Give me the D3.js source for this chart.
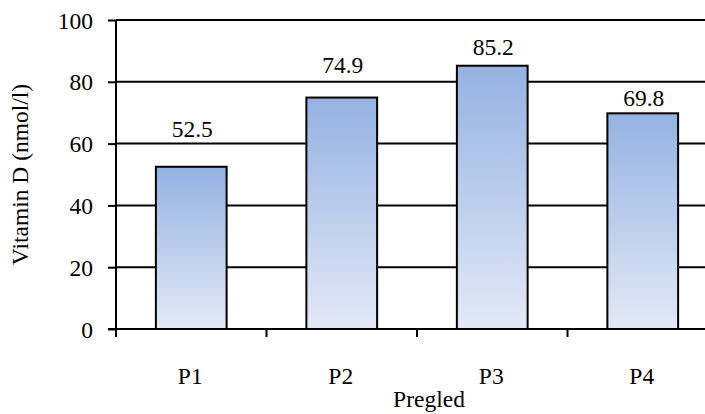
<!DOCTYPE html>
<html>
<head>
<meta charset="utf-8">
<script src="https://cdn.jsdelivr.net/npm/d3@7"></script>
<style>
  body { margin: 0; background: #fff; }
</style>
</head>
<body>
<div id="chart"></div>
<script>
(function () {
    var width = 705,
        height = 414;

    // data
    var categories = ["P1", "P2", "P3", "P4"];
    var values = [52.5, 74.9, 85.2, 69.8];
    // where each value label sits (in nmol/l units, as placed in the original)
    var labelAt = [62.2, 82.9, 88.8, 72.2];
    var yTicks = [0, 20, 40, 60, 80, 100];

    var left = 116, right = 718, top = 20, bottom = 329;
    var font = "'Liberation Serif', 'Times New Roman', serif";
    var fontSize = "23.5px";

    var svg = d3.select("#chart")
        .append("svg")
        .attr("width", width)
        .attr("height", height)

    var defs = svg.append("defs");
    var grad = defs.append("linearGradient")
        .attr("id", "bar-fill")
        .attr("x1", 0).attr("y1", 0)
        .attr("x2", 0).attr("y2", 1)
    grad.append("stop").attr("offset", "0%").attr("stop-color", "#94b2e2")
    grad.append("stop").attr("offset", "100%").attr("stop-color", "#e3e9f6")

    var x = d3.scaleBand()
        .domain(categories)
        .range([left, right])
        .paddingInner(0.53)
        .paddingOuter(0.265)

    var y = d3.scaleLinear()
        .domain([0, 100])
        .range([bottom, top])

    // gridlines
    svg.selectAll(".grid")
        .data(yTicks.filter(function (d) { return d > 0; }))
        .enter().append("line")
        .attr("class", "grid")
        .attr("x1", left).attr("x2", width)
        .attr("y1", function (d) { return y(d); })
        .attr("y2", function (d) { return y(d); })
        .style("stroke", "#000")
        .style("stroke-width", 2)

    // y axis
    var yAxis = d3.axisLeft(y).tickValues(yTicks).tickSize(8).tickPadding(15)
    var gy = svg.append("g")
        .attr("transform", "translate(" + left + ",0)")
        .call(yAxis)
        .attr("font-family", null)
        .attr("font-size", null)
    gy.select(".domain").remove()
    gy.selectAll(".tick line").style("stroke", "#000").style("stroke-width", 2)
    gy.selectAll(".tick text")
        .style("font-family", font)
        .style("font-size", fontSize)
        .style("fill", "#000")
        .attr("dy", "0.34em")

    // bars
    svg.selectAll(".bar")
        .data(values)
        .enter().append("rect")
        .attr("class", "bar")
        .attr("x", function (d, i) { return x(categories[i]); })
        .attr("width", x.bandwidth())
        .attr("y", function (d) { return y(d); })
        .attr("height", function (d) { return y(0) - y(d); })
        .attr("fill", "url(#bar-fill)")
        .style("stroke", "#000")
        .style("stroke-width", 2)

    // value labels
    svg.selectAll(".val")
        .data(values)
        .enter().append("text")
        .attr("class", "val")
        .attr("x", function (d, i) { return x(categories[i]) + x.bandwidth() / 2 + 1; })
        .attr("y", function (d, i) { return y(labelAt[i]); })
        .attr("text-anchor", "middle")
        .style("font-family", font)
        .style("font-size", fontSize)
        .text(function (d) { return d.toFixed(1); })

    // axis lines
    svg.append("line")
        .attr("x1", left).attr("x2", left)
        .attr("y1", top).attr("y2", bottom + 8)
        .style("stroke", "#000").style("stroke-width", 2)
    svg.append("line")
        .attr("x1", left - 8).attr("x2", width)
        .attr("y1", bottom).attr("y2", bottom)
        .style("stroke", "#000").style("stroke-width", 2)

    // category separator ticks
    var step = x.step();
    svg.selectAll(".xtick")
        .data(categories.slice(1))
        .enter().append("line")
        .attr("class", "xtick")
        .attr("x1", function (d) { return x(d) + x.bandwidth() / 2 - step / 2; })
        .attr("x2", function (d) { return x(d) + x.bandwidth() / 2 - step / 2; })
        .attr("y1", bottom).attr("y2", bottom + 8)
        .style("stroke", "#000").style("stroke-width", 2)

    // category labels
    svg.selectAll(".cat")
        .data(categories)
        .enter().append("text")
        .attr("class", "cat")
        .attr("x", function (d) { return x(d) + x.bandwidth() / 2 - 1; })
        .attr("y", 384)
        .attr("text-anchor", "middle")
        .style("font-family", font)
        .style("font-size", fontSize)
        .text(function (d) { return d; })

    // axis titles
    svg.append("text")
        .attr("x", 429)
        .attr("y", 407)
        .attr("text-anchor", "middle")
        .style("font-family", font)
        .style("font-size", fontSize)
        .text("Pregled")

    svg.append("text")
        .attr("transform", "translate(28," + ((top + bottom) / 2) + ") rotate(-90)")
        .attr("text-anchor", "middle")
        .style("font-family", font)
        .style("font-size", fontSize)
        .text("Vitamin D (nmol/l)")

})();
</script>
</body>
</html>
